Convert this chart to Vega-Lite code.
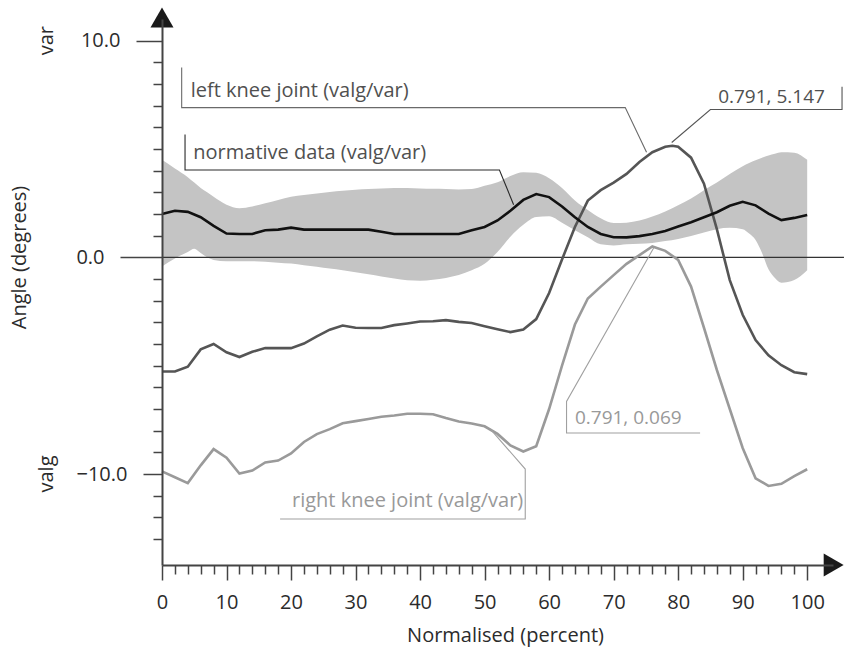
{
  "$schema": "https://vega.github.io/schema/vega-lite/v6.json",
  "width": 671,
  "height": 546,
  "autosize": "none",
  "padding": {"left": 162, "top": 19, "right": 11, "bottom": 93},
  "config": {"view": {"stroke": null}, "font": "Open Sans"},
  "datasets": {
    "band": [
      {"x":0,"y":4.5,"y2":-0.42},{"x":2,"y":4.1,"y2":-0.05},{"x":4,"y":3.7,"y2":0.25},{"x":5,"y":3.45,"y2":0.4},{"x":6,"y":3.2,"y2":0.2},{"x":7,"y":3.0,"y2":0.0},{"x":8,"y":2.8,"y2":-0.12},{"x":10,"y":2.43,"y2":-0.18},{"x":12,"y":2.27,"y2":-0.18},{"x":14,"y":2.35,"y2":-0.18},{"x":16,"y":2.5,"y2":-0.2},{"x":18,"y":2.65,"y2":-0.25},{"x":20,"y":2.8,"y2":-0.29},{"x":22,"y":2.88,"y2":-0.36},{"x":24,"y":2.95,"y2":-0.43},{"x":26,"y":3.02,"y2":-0.52},{"x":28,"y":3.07,"y2":-0.6},{"x":30,"y":3.12,"y2":-0.69},{"x":32,"y":3.15,"y2":-0.78},{"x":34,"y":3.18,"y2":-0.88},{"x":36,"y":3.2,"y2":-0.98},{"x":38,"y":3.2,"y2":-1.06},{"x":40,"y":3.18,"y2":-1.08},{"x":42,"y":3.16,"y2":-1.03},{"x":44,"y":3.15,"y2":-0.95},{"x":46,"y":3.13,"y2":-0.82},{"x":48,"y":3.15,"y2":-0.6},{"x":50,"y":3.3,"y2":-0.3},{"x":52,"y":3.46,"y2":0.25},{"x":54,"y":3.75,"y2":0.95},{"x":56,"y":3.93,"y2":1.5},{"x":58,"y":3.9,"y2":1.86},{"x":60,"y":3.65,"y2":1.9},{"x":62,"y":3.2,"y2":1.6},{"x":64,"y":2.62,"y2":1.25},{"x":66,"y":2.18,"y2":0.93},{"x":68,"y":1.8,"y2":0.6},{"x":70,"y":1.58,"y2":0.55},{"x":72,"y":1.6,"y2":0.6},{"x":74,"y":1.7,"y2":0.63},{"x":76,"y":1.88,"y2":0.66},{"x":78,"y":2.12,"y2":0.75},{"x":80,"y":2.4,"y2":0.85},{"x":82,"y":2.72,"y2":0.98},{"x":84,"y":3.1,"y2":1.15},{"x":86,"y":3.45,"y2":1.3},{"x":88,"y":3.85,"y2":1.36},{"x":90,"y":4.2,"y2":1.3},{"x":91,"y":4.35,"y2":1.1},{"x":92,"y":4.48,"y2":0.8},{"x":93,"y":4.6,"y2":0.2},{"x":94,"y":4.7,"y2":-0.55},{"x":95,"y":4.78,"y2":-0.95},{"x":96,"y":4.85,"y2":-1.17},{"x":98,"y":4.83,"y2":-1.05},{"x":100,"y":4.5,"y2":-0.6}
    ],
    "mean": [
      {"x":0,"y":2.0},{"x":2,"y":2.15},{"x":4,"y":2.1},{"x":6,"y":1.85},{"x":8,"y":1.45},{"x":10,"y":1.1},{"x":12,"y":1.08},{"x":14,"y":1.08},{"x":16,"y":1.25},{"x":18,"y":1.28},{"x":20,"y":1.37},{"x":22,"y":1.28},{"x":24,"y":1.28},{"x":26,"y":1.28},{"x":28,"y":1.28},{"x":30,"y":1.28},{"x":32,"y":1.28},{"x":34,"y":1.18},{"x":36,"y":1.08},{"x":38,"y":1.08},{"x":40,"y":1.08},{"x":42,"y":1.08},{"x":44,"y":1.08},{"x":46,"y":1.08},{"x":48,"y":1.25},{"x":50,"y":1.4},{"x":52,"y":1.7},{"x":54,"y":2.15},{"x":56,"y":2.65},{"x":58,"y":2.92},{"x":60,"y":2.78},{"x":62,"y":2.35},{"x":64,"y":1.85},{"x":66,"y":1.4},{"x":68,"y":1.08},{"x":70,"y":0.93},{"x":72,"y":0.92},{"x":74,"y":0.98},{"x":76,"y":1.08},{"x":78,"y":1.22},{"x":80,"y":1.42},{"x":82,"y":1.62},{"x":84,"y":1.85},{"x":86,"y":2.08},{"x":88,"y":2.38},{"x":90,"y":2.56},{"x":92,"y":2.4},{"x":94,"y":2.02},{"x":96,"y":1.72},{"x":98,"y":1.82},{"x":100,"y":1.95}
    ],
    "left": [
      {"x":0,"y":-5.27},{"x":2,"y":-5.27},{"x":4,"y":-5.05},{"x":6,"y":-4.25},{"x":8,"y":-4.0},{"x":10,"y":-4.38},{"x":12,"y":-4.6},{"x":14,"y":-4.36},{"x":16,"y":-4.19},{"x":18,"y":-4.19},{"x":20,"y":-4.19},{"x":22,"y":-3.98},{"x":24,"y":-3.65},{"x":26,"y":-3.34},{"x":28,"y":-3.15},{"x":30,"y":-3.25},{"x":32,"y":-3.26},{"x":34,"y":-3.26},{"x":36,"y":-3.13},{"x":38,"y":-3.05},{"x":40,"y":-2.96},{"x":42,"y":-2.95},{"x":44,"y":-2.9},{"x":46,"y":-2.98},{"x":48,"y":-3.03},{"x":50,"y":-3.18},{"x":52,"y":-3.32},{"x":54,"y":-3.45},{"x":56,"y":-3.33},{"x":58,"y":-2.85},{"x":60,"y":-1.65},{"x":62,"y":-0.1},{"x":64,"y":1.4},{"x":66,"y":2.62},{"x":68,"y":3.1},{"x":70,"y":3.45},{"x":72,"y":3.85},{"x":74,"y":4.4},{"x":76,"y":4.85},{"x":78,"y":5.1},{"x":79.1,"y":5.15},{"x":80,"y":5.1},{"x":82,"y":4.6},{"x":84,"y":3.4},{"x":86,"y":1.3},{"x":88,"y":-1.05},{"x":90,"y":-2.65},{"x":92,"y":-3.82},{"x":94,"y":-4.52},{"x":96,"y":-4.98},{"x":98,"y":-5.3},{"x":100,"y":-5.39}
    ],
    "right": [
      {"x":0,"y":-9.88},{"x":2,"y":-10.15},{"x":4,"y":-10.42},{"x":6,"y":-9.6},{"x":8,"y":-8.85},{"x":10,"y":-9.25},{"x":12,"y":-9.98},{"x":14,"y":-9.84},{"x":16,"y":-9.47},{"x":18,"y":-9.38},{"x":20,"y":-9.05},{"x":22,"y":-8.52},{"x":24,"y":-8.16},{"x":26,"y":-7.93},{"x":28,"y":-7.66},{"x":30,"y":-7.56},{"x":32,"y":-7.46},{"x":34,"y":-7.36},{"x":36,"y":-7.3},{"x":38,"y":-7.22},{"x":40,"y":-7.22},{"x":42,"y":-7.24},{"x":44,"y":-7.42},{"x":46,"y":-7.58},{"x":48,"y":-7.67},{"x":50,"y":-7.8},{"x":52,"y":-8.15},{"x":54,"y":-8.68},{"x":56,"y":-8.96},{"x":58,"y":-8.72},{"x":60,"y":-7.0},{"x":62,"y":-5.0},{"x":64,"y":-3.1},{"x":66,"y":-1.9},{"x":68,"y":-1.35},{"x":70,"y":-0.82},{"x":72,"y":-0.3},{"x":74,"y":0.1},{"x":76,"y":0.5},{"x":78,"y":0.3},{"x":80,"y":-0.12},{"x":82,"y":-1.35},{"x":84,"y":-3.25},{"x":86,"y":-5.2},{"x":88,"y":-7.0},{"x":90,"y":-8.8},{"x":92,"y":-10.2},{"x":94,"y":-10.55},{"x":96,"y":-10.45},{"x":98,"y":-10.1},{"x":100,"y":-9.78}
    ],
    "zero": [{"x":0,"x2":105.7,"y":0}],
    "callLines": [
      {"c":"left","i":1,"x":3.05,"y":8.76},{"c":"left","i":2,"x":3.05,"y":6.91},{"c":"left","i":3,"x":71.8,"y":6.91},{"c":"left","i":4,"x":75.1,"y":4.85},
      {"c":"norm","i":1,"x":3.57,"y":5.67},{"c":"norm","i":2,"x":3.57,"y":4.03},{"c":"norm","i":3,"x":52.3,"y":4.03},{"c":"norm","i":4,"x":54.5,"y":2.43},
      {"c":"lpeak","i":1,"x":105.4,"y":7.87},{"c":"lpeak","i":2,"x":105.4,"y":6.82},{"c":"lpeak","i":3,"x":85.0,"y":6.82},{"c":"lpeak","i":4,"x":79.0,"y":5.3},
      {"c":"rpeak","i":1,"x":83.4,"y":-8.11},{"c":"rpeak","i":2,"x":62.7,"y":-8.11},{"c":"rpeak","i":3,"x":62.7,"y":-6.65},{"c":"rpeak","i":4,"x":76.2,"y":0.43},
      {"c":"right","i":1,"x":18.3,"y":-12.08},{"c":"right","i":2,"x":56.3,"y":-12.08},{"c":"right","i":3,"x":56.3,"y":-9.77},{"c":"right","i":4,"x":50.9,"y":-7.93}
    ],
    "callWords": [
      {"c":"left","t":"left knee joint (valg/var)","x":4.45,"y":7.41},
      {"c":"norm","t":"normative data (valg/var)","x":4.85,"y":4.52},
      {"c":"right","t":"right knee joint (valg/var)","x":20.15,"y":-11.52}
    ],
    "callNums": [
      {"c":"lpeak","t":"0.791, 5.147","x":86.2,"y":7.11},
      {"c":"rpeak","t":"0.791, 0.069","x":64.0,"y":-7.69}
    ],
    "sides": [
      {"t":"var","x":-16.9,"y":10},
      {"t":"valg","x":-16.9,"y":-10}
    ],
    "arrowUp": [{"x":0,"y":11.07}],
    "arrowRight": [{"x":104.1,"y":-14.2}]
  },
  "encoding": {
    "x": {
      "field": "x", "type": "quantitative",
      "scale": {"domain": [0, 104], "nice": false, "zero": false},
      "axis": {
        "title": "Normalised (percent)",
        "values": [0,2,4,6,8,10,12,14,16,18,20,22,24,26,28,30,32,34,36,38,40,42,44,46,48,50,52,54,56,58,60,62,64,66,68,70,72,74,76,78,80,82,84,86,88,90,92,94,96,98,100],
        "labelExpr": "datum.value % 10 === 0 ? datum.label : ''",
        "tickSize": {"condition": {"test": "datum.value % 10 === 0", "value": 15}, "value": 9},
        "tickWidth": 1.5, "tickColor": "#444444",
        "domainColor": "#444444", "domainWidth": 2,
        "labelFontSize": 20, "labelColor": "#2b2b2b", "labelPadding": 12,
        "labelOverlap": false, "labelFlush": false, "grid": false,
        "titleFontSize": 20, "titleFontWeight": "normal", "titleColor": "#2b2b2b",
        "titleX": 343, "titleY": 76, "titleBaseline": "alphabetic",
        "zindex": 1
      }
    },
    "y": {
      "field": "y", "type": "quantitative",
      "scale": {"domain": [-14.2, 11], "nice": false, "zero": false},
      "axis": {
        "title": "Angle (degrees)",
        "values": [-13,-12,-11,-10,-9,-8,-7,-6,-5,-4,-3,-2,-1,0,1,2,3,4,5,6,7,8,9,10],
        "labelExpr": "abs(datum.value) === 10 || datum.value === 0 ? format(datum.value, '.1f') : ''",
        "tickSize": {"expr": "datum.value === 0 ? 42 : datum.value === 10 ? 26 : datum.value === -10 ? 19 : 9"},
        "tickWidth": 1.5, "tickColor": "#444444",
        "domainColor": "#444444", "domainWidth": 2,
        "labelFontSize": 20, "labelColor": "#2b2b2b", "labelPadding": 16,
        "labelOverlap": false, "grid": false,
        "titleFontSize": 20, "titleFontWeight": "normal", "titleColor": "#2b2b2b",
        "titleX": -137, "titleY": 238, "titleAngle": 270, "titleAlign": "center", "titleBaseline": "alphabetic",
        "zindex": 1
      }
    }
  },
  "layer": [
    {"data": {"name": "band"}, "mark": {"type": "area", "color": "#c4c4c4", "opacity": 1, "interpolate": "monotone"}, "encoding": {"y2": {"field": "y2"}}},
    {"data": {"name": "zero"}, "mark": {"type": "rule", "color": "#333333", "strokeWidth": 1.2}, "encoding": {"x2": {"field": "x2"}}},
    {"data": {"name": "right"}, "mark": {"type": "line", "color": "#9a9a9a", "strokeWidth": 2.6}, "encoding": {}},
    {"data": {"name": "left"}, "mark": {"type": "line", "color": "#555555", "strokeWidth": 2.6}, "encoding": {}},
    {"data": {"name": "mean"}, "mark": {"type": "line", "color": "#111111", "strokeWidth": 2.6}, "encoding": {}},
    {"data": {"name": "callLines"}, "mark": {"type": "line", "strokeWidth": 1.1},
     "encoding": {
       "stroke": {"field": "c", "type": "nominal", "scale": {"domain": ["left","norm","lpeak","rpeak","right"], "range": ["#6a6a6a","#2a2a2a","#555555","#a0a0a0","#a0a0a0"]}, "legend": null},
       "order": {"field": "i", "type": "quantitative"}
     }},
    {"data": {"name": "callWords"}, "mark": {"type": "text", "align": "left", "baseline": "alphabetic", "fontSize": 20},
     "encoding": {
       "text": {"field": "t"},
       "fill": {"field": "c", "type": "nominal", "scale": {"domain": ["left","norm","lpeak","rpeak","right"], "range": ["#505050","#505050","#505050","#999999","#999999"]}, "legend": null}
     }},
    {"data": {"name": "callNums"}, "mark": {"type": "text", "align": "left", "baseline": "alphabetic", "fontSize": 19},
     "encoding": {
       "text": {"field": "t"},
       "fill": {"field": "c", "type": "nominal", "scale": {"domain": ["left","norm","lpeak","rpeak","right"], "range": ["#505050","#505050","#505050","#999999","#999999"]}, "legend": null}
     }},
    {"data": {"name": "sides"}, "mark": {"type": "text", "angle": 270, "align": "center", "baseline": "alphabetic", "fontSize": 20, "color": "#2b2b2b"},
     "encoding": {"text": {"field": "t"}}},
    {"data": {"name": "arrowUp"}, "mark": {"type": "point", "shape": "triangle-up", "size": 530, "filled": true, "color": "#1a1a1a", "opacity": 1}, "encoding": {}},
    {"data": {"name": "arrowRight"}, "mark": {"type": "point", "shape": "triangle-right", "size": 530, "filled": true, "color": "#1a1a1a", "opacity": 1}, "encoding": {}}
  ]
}
